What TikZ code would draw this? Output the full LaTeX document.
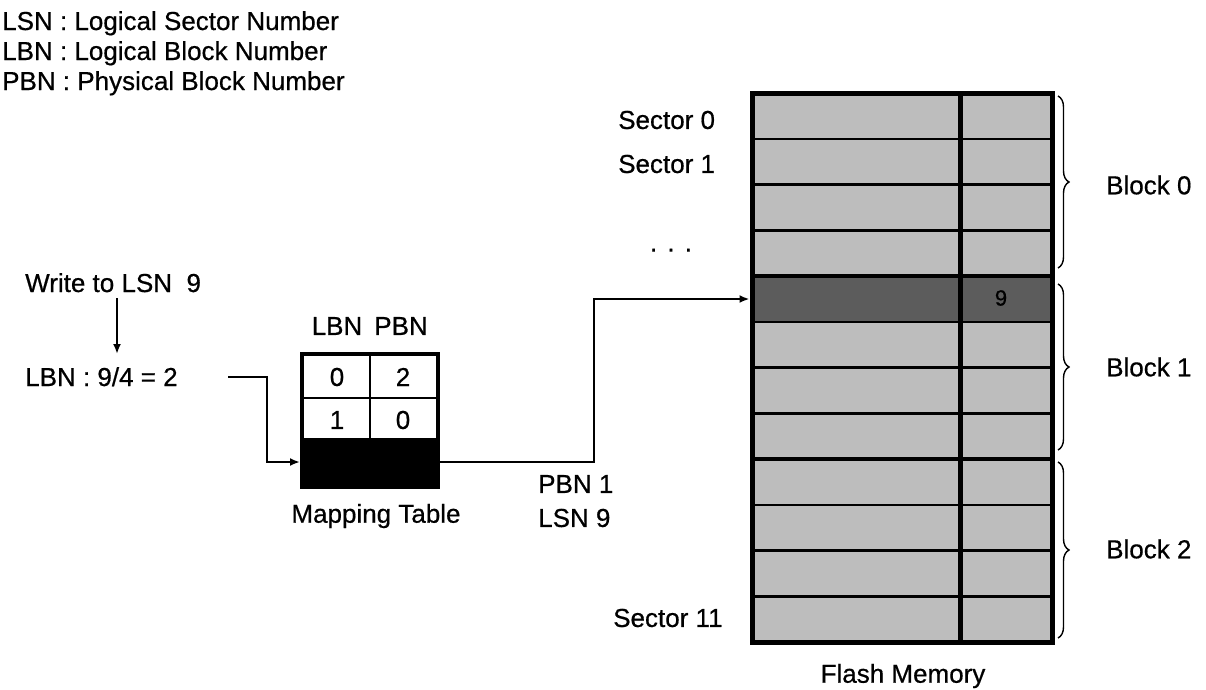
\documentclass[tikz,border=0pt]{standalone}
\usepackage{fontspec}
\setmainfont{Liberation Sans}[FakeBold=0.6]
\usetikzlibrary{decorations.pathreplacing,arrows.meta}
\definecolor{cellgray}{gray}{0.74}
\definecolor{darkcell}{gray}{0.36}
\begin{document}
\begin{tikzpicture}[x=1pt,y=-1pt,
  lbl/.style={inner sep=0pt, font=\fontsize{26}{30}\selectfont},
  conn/.style={line width=2pt},
  tipped/.style={-{Latex[length=10pt,width=8pt]}},
  brc/.style={decorate, decoration={brace, amplitude=11pt}, line width=1.4pt}]
\useasboundingbox (0,0) rectangle (1206,689);

% legend
\node[lbl, anchor=base west] (leg1) at (2,30) {LSN : Logical Sector Number};
\node[lbl, anchor=base west] (leg2) at (2,60) {LBN : Logical Block Number};
\node[lbl, anchor=base west] (leg3) at (2,90) {PBN : Physical Block Number};

% left part
\node[lbl, anchor=base west] (write) at (25,292) {Write to LSN\ \ 9};
\node[lbl, anchor=base west] (lbn) at (25,386) {LBN : 9/4 = 2};
\coordinate (wa) at (117,298);
\coordinate (wb) at (117,354);
\draw[conn, tipped] (wa) -- (wb);

% mapping table
\fill (302,439) rectangle (438,487);
\node[draw, line width=4pt, minimum width=136pt, minimum height=133pt, inner sep=0pt] (tbl) at (370,420.5) {};
\draw[line width=2pt] (302,398) -- (438,398);
\draw[line width=2pt] (302,439) -- (438,439);
\draw[line width=2pt] (370,354) -- (370,439);
\node[lbl] (c00) at (337,377) {0};
\node[lbl] (c01) at (403,377) {2};
\node[lbl] (c10) at (337,420) {1};
\node[lbl] (c11) at (403,420) {0};
\node[lbl] (hl) at (337,326) {LBN};
\node[lbl] (hp) at (401,326) {PBN};
\node[lbl] (mt) at (376,516) {Mapping Table};

\coordinate (s1) at (228,377);
\draw[conn, tipped] (s1) -- (267,377) -- (267,462) -- (tbl.west |- 0,462);

% output
\coordinate (o1) at (594,462);
\coordinate (o2) at (594,299);
\node[lbl, anchor=west] (pbn) at (538,484) {PBN 1};
\node[lbl, anchor=west] (lsn) at (538,518) {LSN 9};

% flash memory
\fill[cellgray] (752,93) rectangle (1052,642);
\fill[darkcell] (752,276) rectangle (1052,321.75);
\foreach \i in {1,2,3,5,6,7,9,10,11}
  \draw[line width=2.5pt] (752,93+\i*45.75) -- (1052,93+\i*45.75);
\foreach \i in {4,8}
  \draw[line width=4.5pt] (752,93+\i*45.75) -- (1052,93+\i*45.75);
\draw[line width=5pt] (960,93) -- (960,642);
\node[draw, line width=5pt, minimum width=300pt, minimum height=549pt, inner sep=0pt] (flash) at (902,367.5) {};
\node[lbl, font=\fontsize{22}{24}\selectfont] (nine) at (1001,298) {9};

\draw[conn, tipped] (tbl.east |- 0,462) -- (o1) -- (o2) -- (flash.west |- o2);

\node[lbl, anchor=west] (sec0) at (618,120) {Sector 0};
\node[lbl, anchor=west] (sec1) at (618,164) {Sector 1};
\node[lbl] (dots) at (671,253) {·\,\,·\,\,·};
\node[lbl, anchor=west] (sec11) at (613,618) {Sector 11};
\node[lbl] (fm) at (903,676) {Flash Memory};

% braces
\draw[brc] (1058,96) -- (1058,268);
\draw[brc] (1058,284) -- (1058,450);
\draw[brc] (1058,462) -- (1058,638);
\node[lbl, anchor=west] (b0) at (1106,185) {Block 0};
\node[lbl, anchor=west] (b1) at (1106,367) {Block 1};
\node[lbl, anchor=west] (b2) at (1106,549) {Block 2};
\end{tikzpicture}
\end{document}
